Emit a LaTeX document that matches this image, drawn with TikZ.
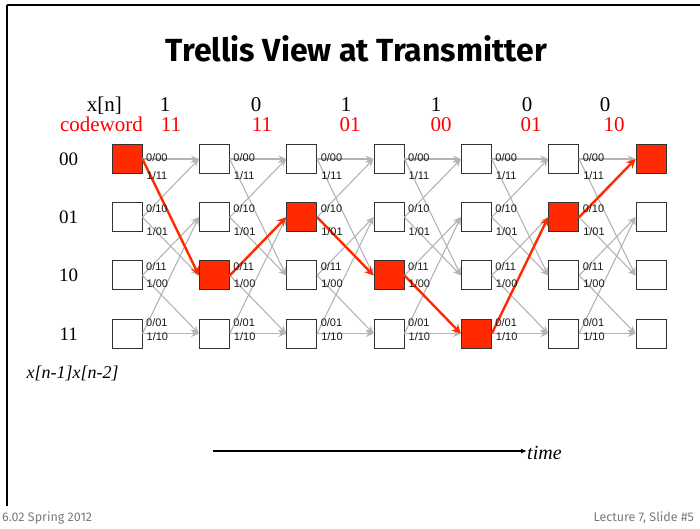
\documentclass[tikz,border=0pt]{standalone}
\usepackage{fontspec}
\setmainfont{Liberation Serif}
\newfontfamily\titlefont{Fira Sans}
\newfontfamily\lblfont{Liberation Sans}
\usetikzlibrary{arrows.meta,calc}
\definecolor{tred}{HTML}{FF2A00}
\definecolor{cwred}{HTML}{FF0000}
\definecolor{edgegray}{HTML}{B4B4B4}
\definecolor{footgray}{HTML}{7A7A7A}
\begin{document}
\begin{tikzpicture}[x=1pt,y=-1pt,
  state/.style={draw=black!80, line width=0.9pt, fill=white, minimum width=30pt, minimum height=29pt, inner sep=0pt},
  hot/.style={state, fill=tred},
  edge/.style={draw=edgegray, line width=1.1pt, -{Stealth[length=8pt,width=7pt,inset=3pt]}},
  redge/.style={draw=tred, line width=2.4pt, -{Stealth[length=9pt,width=9pt,inset=3pt]}},
  elbl/.style={font=\lblfont\fontsize{11}{11}\selectfont, anchor=base west, inner sep=0pt, text=black!90},
  big/.style={font=\fontsize{21}{21}\selectfont, inner sep=0pt},
  rowlbl/.style={font=\fontsize{19}{19}\selectfont, inner sep=0pt, anchor=base},
  foot/.style={font=\titlefont\fontsize{12.5}{12.5}\selectfont, text=footgray, inner sep=0pt}
]
\useasboundingbox (0,0) rectangle (700,528);
% frame
\draw[line width=1.6pt] (7,5) -- (700,5);
\draw[line width=1.6pt] (7,5) -- (7,506);
% title
\node[font=\titlefont\bfseries\fontsize{32}{32}\selectfont, anchor=base, inner sep=0pt] (title) at (356.5,61.5) {Trellis View at Transmitter};
% input and codeword rows
\node[big, anchor=base east] (xn) at (122,111) {x[n]};
\node[big, anchor=base east, text=cwred] (cw) at (143,131) {codeword};
\foreach \x/\b [count=\k] in {165/1, 256/0, 346/1, 436/1, 527/0, 605/0}
  \node[big, anchor=base] (b\k) at (\x,111) {\b};
\foreach \x/\c [count=\k] in {171/11, 262/11, 350/01, 441/00, 531/01, 614/10}
  \node[big, anchor=base, text=cwred] (c\k) at (\x,131) {\c};
% row labels
\foreach \j/\t in {0/00,1/01,2/10,3/11}
  \node[rowlbl] (r\j) at (68.7,{159+58.2*\j+6.5}) {\t};
\node[font=\itshape\fontsize{18}{18}\selectfont, anchor=base west, inner sep=0pt] (stlbl) at (26.5,378) {x[n-1]x[n-2]};
% states
\foreach \i/\h in {0/0,1/2,2/1,3/2,4/3,5/1,6/0}
  \foreach \j in {0,...,3}{
    \ifnum\j=\h\relax\def\st{hot}\else\def\st{state}\fi
    \node[\st] (n\i\j) at ({127+87.33*\i},{159+58.2*\j}) {};
  }
% gray edges
\foreach \i [evaluate=\i as \k using int(\i+1)] in {0,...,5}{
  \foreach \j/\a/\b in {0/0/2,1/0/2,2/1/3,3/1/3}{
    \draw[edge] (n\i\j.east) -- (n\k\a.west);
    \draw[edge] (n\i\j.east) -- (n\k\b.west);
  }
}
% red path
\draw[redge] (n00.east) -- (n12.west);
\draw[redge] (n12.east) -- (n21.west);
\draw[redge] (n21.east) -- (n32.west);
\draw[redge] (n32.east) -- (n43.west);
\draw[redge] (n43.east) -- (n51.west);
\draw[redge] (n51.east) -- (n60.west);
% edge labels
\foreach \i in {0,...,5}{
  \foreach \j/\la/\da/\lb/\db in {0/0\slash00/-1.5/1\slash11/16, 1/0\slash10/-8.5/1\slash01/14, 2/0\slash11/-9/1\slash00/8.5, 3/0\slash01/-11.5/1\slash10/3}{
    \node[elbl] at ($(n\i\j.east)+(3.5,{\da+4})$) {\la};
    \node[elbl] at ($(n\i\j.east)+(4,{\db+4})$) {\lb};
  }
}
% time arrow
\node[font=\itshape\fontsize{20}{20}\selectfont, anchor=base west, inner sep=0pt] (time) at (527,459) {time};
\coordinate (ts) at (213,451);
\draw[line width=1.8pt, -{Latex[length=6pt,width=5pt]}] (ts) -- (time.west |- ts);
% footer
\node[foot, anchor=base west] (f1) at (2,521) {6.02 Spring 2012};
\node[foot, anchor=base east] (f2) at (694,521) {Lecture 7, Slide \#5};
\end{tikzpicture}
\end{document}
